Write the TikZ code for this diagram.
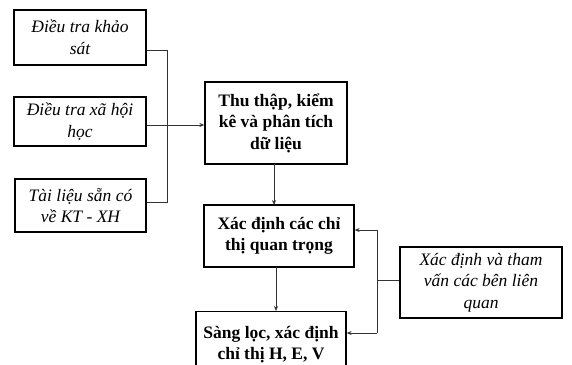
\documentclass[tikz,border=0pt]{standalone}
\usepackage{fontspec}
\setmainfont{Liberation Serif}
\usetikzlibrary{arrows.meta}
\begin{document}
\begin{tikzpicture}[x=1pt,y=-1pt,
  box/.style={draw=black,line width=1.3pt,align=center,inner sep=0pt,font=\fontsize{17.5}{21.5}\selectfont},
  ibox/.style={box,font=\fontsize{17.5}{21.5}\selectfont\itshape},
  bbox/.style={box,font=\fontsize{17.5}{21.5}\selectfont\bfseries},
  conn/.style={draw=black!80,line width=0.8pt},
  arr/.style={conn,-{Stealth[length=5pt,width=4pt]}}]
\useasboundingbox (0,0) rectangle (572,364);
\begin{scope}
\clip (0,0) rectangle (572,364);
\node[ibox,minimum width=132pt,minimum height=55pt] (b1) at (80,37.5) {Điều tra khảo\\sát};
\node[ibox,minimum width=132pt,minimum height=49pt] (b2) at (80,121.5) {Điều tra xã hội\\học};
\node[ibox,minimum width=131pt,minimum height=53pt] (b3) at (80.5,205.5) {Tài liệu sẵn có\\về KT - XH};
\node[bbox,minimum width=142pt,minimum height=82pt] (t) at (276,123) {Thu thập, kiểm\\kê và phân tích\\dữ liệu};
\node[bbox,minimum width=150pt,minimum height=62pt] (x) at (279,236) {Xác định các chỉ\\thị quan trọng};
\node[bbox,minimum width=150pt,minimum height=66pt,anchor=north] (s) at (271,311) {Sàng lọc, xác định\\chỉ thị H, E, V};
\node[ibox,minimum width=162pt,minimum height=71pt] (r) at (481,282.5) {Xác định và tham\\vấn các bên liên\\quan};
\end{scope}
\coordinate (j) at (167,125);
\draw[conn] (b1.east |- 0,50) -| (j);
\draw[conn] (b3.east |- 0,202) -| (j);
\draw[arr] (b2.east |- 0,125) -- (t.west |- j);
\draw[arr] (274,164) -- (274,205);
\draw[arr] (276,267) -- (276,311);
\coordinate (k) at (377,280);
\draw[conn] (r.west |- k) -- (k);
\draw[arr] (377,230) -- (x.east |- 0,230);
\draw[conn] (377,230) -- (377,333);
\draw[arr] (377,333) -- (s.east |- 0,333);
\end{tikzpicture}
\end{document}
